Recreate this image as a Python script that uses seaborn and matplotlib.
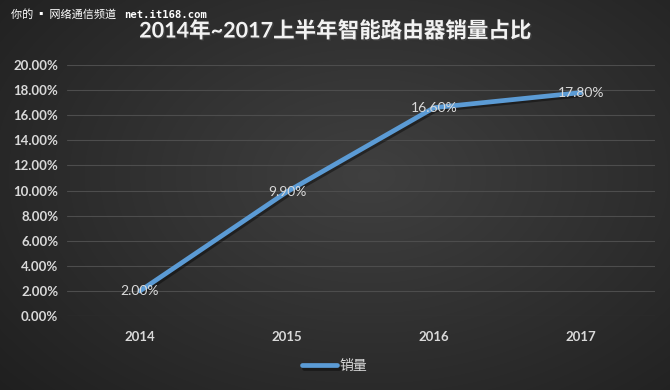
import numpy as np
import pandas as pd
import matplotlib
matplotlib.use("Agg")
import matplotlib.pyplot as plt
import matplotlib.patheffects as pe
from matplotlib.ticker import FuncFormatter, MultipleLocator
import seaborn as sns

years = ["2014", "2015", "2016", "2017"]
share = [2.0, 9.9, 16.6, 17.8]
value_labels = ["2.00%", "9.90%", "16.60%", "17.80%"]
series_name = "销量"
title = "2014年~2017上半年智能路由器销量占比"
watermark_cn = "你的 ▪ 网络通信频道"
watermark_url = "net.it168.com"

sns.set_theme(style="dark")
plt.rcParams['font.family'] = ['Lato', 'Noto Sans CJK SC', 'DejaVu Sans']

fig = plt.figure(figsize=(6.7, 3.9), dpi=100)

# radial gradient background
bg = fig.add_axes([0, 0, 1, 1], zorder=-10)
h, w = 390, 670
yy, xx = np.mgrid[0:h, 0:w]
r = np.sqrt(((xx - w * 0.55) / (w * 0.75)) ** 2 + ((yy - h * 0.45) / (h * 0.85)) ** 2)
v = 0.25 - 0.13 * np.clip(r, 0, 1)
img = np.dstack([v, v, v])
bg.imshow(img, aspect="auto", extent=[0, 1, 0, 1])
bg.axis("off")

ax = fig.add_axes([0.0993, 0.1897, 0.8776, 0.6436])
ax.set_facecolor("none")

df = pd.DataFrame({"year": years, "share": share})
sns.lineplot(data=df, x="year", y="share", ax=ax, color="#5b9bd5", linewidth=3.4,
             label=series_name, sort=False,
             path_effects=[pe.SimpleLineShadow(offset=(1.5, -1.5), alpha=0.4, shadow_color="black"), pe.Normal()])

ax.set_xlim(-0.5, 3.5)
ax.set_ylim(0, 20)
ax.yaxis.set_major_locator(MultipleLocator(2))
ax.yaxis.set_major_formatter(FuncFormatter(lambda v, p: f"{v:.2f}%"))
ax.grid(axis="y", color="#4d4d4d", linewidth=0.8)
ax.grid(axis="x", visible=False)
for s in ax.spines.values():
    s.set_visible(False)
ax.set_xlabel("")
ax.set_ylabel("")
ax.tick_params(axis="both", colors="#d9d9d9", length=0, labelsize=9.5, pad=6)
for t in ax.get_xticklabels() + ax.get_yticklabels():
    t.set_fontweight("bold")
    t.set_color("#d9d9d9")
ax.tick_params(axis="x", pad=11)

for i, (v, lab) in enumerate(zip(share, value_labels)):
    ax.text(i, v, lab, ha="center", va="center", color="#d9d9d9", fontsize=10,
            zorder=5)

leg = ax.legend(loc="center", bbox_to_anchor=(0.5, 0.062), bbox_transform=fig.transFigure,
                frameon=False, fontsize=10, handlelength=2.5, handletextpad=0.2)
for t in leg.get_texts():
    t.set_color("#d9d9d9")

fig.text(0.5, 1 - 31 / 390, title, ha="center", va="center", fontsize=15.5,
         fontweight="bold", color="#f2f2f2",
         path_effects=[pe.withSimplePatchShadow(offset=(1, -1), alpha=0.6)])
fig.text(11 / 670, 1 - 14 / 390, watermark_cn, ha="left", va="center", fontsize=8,
         color="white", family=['Noto Sans CJK SC', 'DejaVu Sans'])
fig.text(124 / 670, 1 - 15 / 390, watermark_url, ha="left", va="center", fontsize=7.6,
         color="white", family=['DejaVu Sans Mono'], fontweight="bold")

fig.savefig("out.png", dpi=100)
